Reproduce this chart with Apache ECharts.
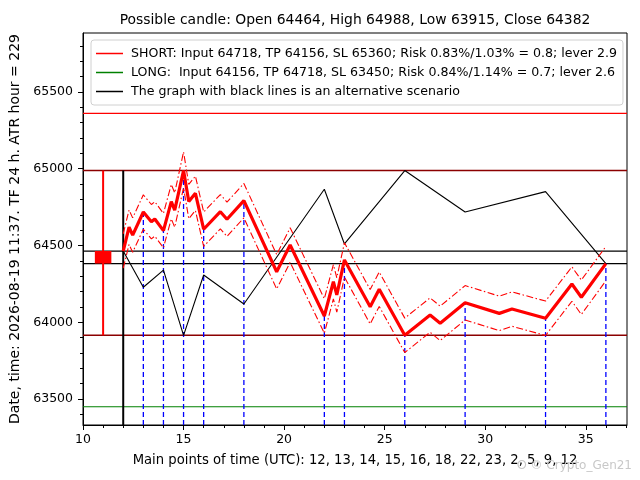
<!DOCTYPE html>
<html>

<head>
  <meta charset="UTF-8">
  <title>Possible candle</title>
  <script src="https://cdn.jsdelivr.net/npm/echarts@6.0.0/dist/echarts.min.js"></script>
  <style>
    html, body { margin: 0; padding: 0; background: #fff; }
    #chart {
      width: 640px;
      height: 480px;
    }
  </style>
</head>

<body>
  <div id="chart"></div>
  <script>
    // 轴范围与刻度
    const X_MIN = 10, X_MAX = 37.05;
    const Y_MIN = 63331, Y_MAX = 65884;
    const X_TICKS = [10, 15, 20, 25, 30, 35];
    const Y_TICKS = [63500, 64000, 64500, 65000, 65500];

    // 蜡烛参数
    const candle = { x: 11, open: 64464, high: 64988, low: 63915, close: 64382 };
    const SL_SHORT = 65360, SL_LONG = 63450;

    // 主预测线（红色粗线）
    const mainX = [12, 12.29, 12.47, 13, 13.4, 13.57, 14, 14.39, 14.56, 15, 15.26, 15.59, 16, 16.83, 17.16, 18,
      19.63, 20.3, 22, 22.45, 22.62, 23, 24.28, 24.73, 26, 27.26, 27.76, 29, 30.7, 31.33, 33, 34.31, 34.78, 36];
    const mainY = [64464, 64619, 64568, 64718, 64655, 64673, 64597, 64786, 64731, 64988, 64786, 64840, 64606, 64720, 64671, 64792,
      64329, 64503, 64041, 64264, 64178, 64406, 64101, 64215, 63915, 64047, 63993, 64127, 64058, 64086, 64026, 64249, 64163, 64382];
    // 上下通道（点划线）
    const upperY = [64576, 64731, 64680, 64830, 64767, 64785, 64709, 64898, 64843, 65110, 64898, 64952, 64718, 64832, 64783, 64904,
      64441, 64615, 64153, 64376, 64290, 64518, 64213, 64327, 64027, 64159, 64105, 64239, 64170, 64198, 64138, 64361, 64275, 64494];
    const lowerY = [64352, 64507, 64456, 64606, 64543, 64561, 64485, 64674, 64619, 64876, 64674, 64728, 64494, 64608, 64559, 64680,
      64217, 64391, 63929, 64152, 64066, 64294, 63989, 64103, 63803, 63935, 63881, 64015, 63946, 63974, 63914, 64137, 64051, 64270];

    // 关键时间点（蓝色虚线）
    const keyX = [13, 14, 15, 16, 18, 22, 23, 26, 29, 33, 36];
    const keyY = [64718, 64597, 64988, 64606, 64792, 64041, 64406, 63915, 64127, 64026, 64382];

    // 备选情景（黑色细线）
    const altX = [12, 13, 14, 15, 16, 18, 22, 23, 26, 29, 33, 36];
    const altY = [64464, 64228, 64340, 63915, 64308, 64119, 64866, 64510, 64988, 64718, 64851, 64382];

    const LEGEND_SHORT = 'SHORT: Input 64718, TP 64156, SL 65360; Risk 0.83%/1.03% = 0.8; lever 2.9';
    const LEGEND_LONG = 'LONG:  Input 64156, TP 64718, SL 63450; Risk 0.84%/1.14% = 0.7; lever 2.6';
    const LEGEND_ALT = 'The graph with black lines is an alternative scenario';

    const FONT = 'DejaVu Sans';

    const zip = (xs, ys) => xs.map((x, i) => [x, ys[i]]);
    const hline = (y) => [[X_MIN, y], [X_MAX, y]];
    const range = (a, b, s) => { const r = []; for (let v = a; v <= b; v += s) r.push(v); return r; };

    function lineSeries(name, data, color, width, type, z) {
      return {
        name: name,
        type: 'line',
        data: data,
        color: color,
        symbol: 'none',
        silent: true,
        z: z || 2,
        lineStyle: { color: color, width: width, type: type || 'solid', cap: 'butt' }
      };
    }

    // 蓝色竖线：从底部到主线
    const blueData = [];
    keyX.forEach((x, i) => { blueData.push([x, Y_MIN], [x, keyY[i]], [x, null]); });

    const dashDot = [7, 2.5, 1.5, 2.5];

    const option = {
      animation: false,
      grid: {
        left: 83, right: 13, top: 33, bottom: 55, outerBoundsMode: 'none',
        show: true, borderColor: '#000', borderWidth: 1, backgroundColor: 'transparent'
      },
      textStyle: { fontFamily: FONT },
      graphic: [
        { type: 'text', x: 355, y: 20, style: { text: 'Possible candle: Open 64464, High 64988, Low 63915, Close 64382', font: '13.9px "DejaVu Sans"', fill: '#000', align: 'center', verticalAlign: 'middle' } },
        { type: 'text', right: 8, top: 460, style: { text: '\u2B58 \u00A9 Crypto_Gen21', font: '12px "DejaVu Sans"', fill: '#c8c8c8' }, z: 100 }
      ],
      legend: {
        selectedMode: false,
        orient: 'vertical',
        left: 91, top: 40,
        width: 530,
        padding: [7, 6, 7, 5],
        itemGap: 6,
        itemWidth: 27, itemHeight: 1.5,
        icon: 'rect',
        borderColor: '#d0d0d0', borderWidth: 1, borderRadius: 3,
        backgroundColor: 'rgba(255,255,255,0.8)',
        textStyle: { fontFamily: FONT, fontSize: 12.6, color: '#000', padding: [0, 0, 0, 3] },
        data: [LEGEND_SHORT, LEGEND_LONG, LEGEND_ALT]
      },
      xAxis: [
        {
          type: 'value', min: X_MIN, max: X_MAX,
          name: 'Main points of time (UTC): 12, 13, 14, 15, 16, 18, 22, 23, 2, 5, 9, 12',
          nameLocation: 'middle', nameGap: 29,
          nameTextStyle: { fontFamily: FONT, fontSize: 13.2, color: '#000' },
          axisLine: { show: true, onZero: false, lineStyle: { color: '#000', width: 1 } },
          axisTick: { show: true, length: 5, lineStyle: { color: '#000' }, customValues: X_TICKS },
          axisLabel: { fontFamily: FONT, fontSize: 12.5, color: '#000', margin: 8, customValues: X_TICKS, formatter: v => String(v) },
          splitLine: { show: false }
        },
        {
          type: 'value', min: X_MIN, max: X_MAX, position: 'bottom',
          axisLine: { show: false },
          axisTick: { show: true, length: 3, lineStyle: { color: '#000' }, customValues: range(10, 37, 1) },
          axisLabel: { show: false },
          splitLine: { show: false }
        }
      ],
      yAxis: [
        {
          type: 'value', min: Y_MIN, max: Y_MAX,
          name: 'Date, time: 2026-08-19 11:37. TF 24 h. ATR hour = 229',
          nameLocation: 'middle', nameGap: 58, nameRotate: 90,
          nameTextStyle: { fontFamily: FONT, fontSize: 14, color: '#000' },
          axisLine: { show: true, onZero: false, lineStyle: { color: '#000', width: 1 } },
          axisTick: { show: true, length: 5, lineStyle: { color: '#000' }, customValues: Y_TICKS },
          axisLabel: { fontFamily: FONT, fontSize: 12.5, color: '#000', margin: 10, customValues: Y_TICKS, formatter: v => String(v) },
          splitLine: { show: false }
        },
        {
          type: 'value', min: Y_MIN, max: Y_MAX, position: 'left',
          axisLine: { show: false },
          axisTick: { show: true, length: 3, lineStyle: { color: '#000' }, customValues: range(63400, 65800, 100) },
          axisLabel: { show: false },
          splitLine: { show: false }
        }
      ],
      series: [
        lineSeries(LEGEND_SHORT, hline(SL_SHORT), '#ff0000', 1.2),
        lineSeries(LEGEND_LONG, hline(SL_LONG), '#008000', 1.2),
        lineSeries('high', hline(candle.high), '#8b0000', 1.5),
        lineSeries('low', hline(candle.low), '#8b0000', 1.5),
        lineSeries('open', hline(candle.open), '#000', 1.3),
        lineSeries('close', hline(candle.close), '#000', 1.3),
        lineSeries('wick', [[candle.x, candle.low], [candle.x, candle.high]], '#ff0000', 2),
        lineSeries('body', [[candle.x, candle.close], [candle.x, candle.open]], '#ff0000', 16.5),
        lineSeries('now', [[12, Y_MIN], [12, candle.high]], '#000', 2),
        Object.assign(lineSeries('key', blueData, '#0000ff', 1.3, [5, 3], 3), { connectNulls: false }),
        lineSeries(LEGEND_ALT, zip(altX, altY), '#000', 1.1, 'solid', 4),
        lineSeries('upper', zip(mainX, upperY), '#ff0000', 1.1, dashDot, 4),
        lineSeries('lower', zip(mainX, lowerY), '#ff0000', 1.1, dashDot, 4),
        lineSeries('main', zip(mainX, mainY), '#ff0000', 3.2, 'solid', 5)
      ]
    };

    const chart = echarts.init(document.getElementById('chart'));
    chart.setOption(option);
  </script>
</body>

</html>
